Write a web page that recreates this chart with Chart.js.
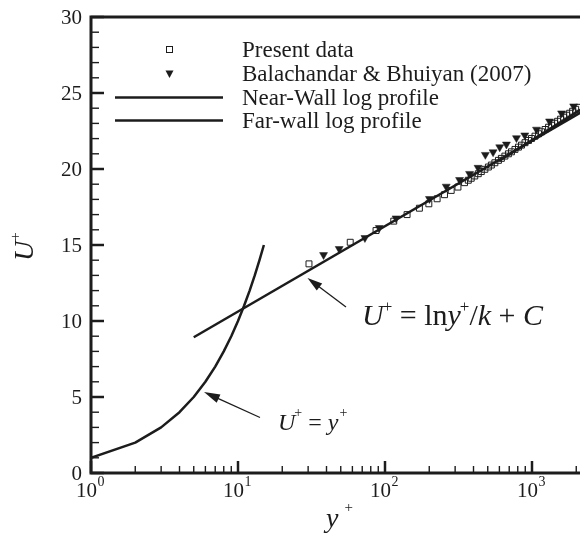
<!DOCTYPE html>
<html>
<head>
<meta charset="utf-8">
<script src="https://cdn.jsdelivr.net/npm/chart.js@4/dist/chart.umd.min.js"></script>
<style>
html,body{margin:0;padding:0;background:#fff;overflow:hidden}
#wrap{width:580px;height:535px;overflow:hidden;position:relative}
canvas{display:block}
</style>
</head>
<body>
<div id="wrap"><canvas id="c" width="600" height="535"></canvas></div>
<script>
// ---------- data ----------
const presentYPlus = [30.4, 58.0, 86.9, 114.7, 141.3, 171.4, 198.7, 226.3, 254, 282, 313.6, 347.7,
  368.7, 386, 408, 431, 452, 478, 505, 529, 559, 591,
  619, 654, 691, 725, 766, 809, 848, 896, 947, 992,
  1048, 1108, 1161, 1227, 1296, 1359, 1424, 1493, 1565, 1641,
  1720, 1803, 1890, 1982, 2077];
const presentU = [13.76, 15.18, 15.95, 16.57, 17.00, 17.42, 17.71, 18.04, 18.31, 18.59, 18.81, 19.10,
  19.26, 19.39, 19.54, 19.69, 19.83, 19.98, 20.13, 20.26, 20.41, 20.57,
  20.70, 20.85, 21.00, 21.13, 21.29, 21.44, 21.57, 21.73, 21.88, 22.01,
  22.16, 22.32, 22.45, 22.60, 22.75, 22.88, 23.01, 23.14, 23.28, 23.41,
  23.54, 23.67, 23.80, 23.93, 24.06];
const balYPlus = [38.2, 48.8, 73.0, 91.4, 118.9, 200.6, 260.9, 321.5, 376, 429.5,
  481.6, 543.6, 603, 670, 784, 893, 1073, 1316, 1589, 1920];
const balU = [14.35, 14.75, 15.47, 16.13, 16.76, 18.04, 18.85, 19.29, 19.69, 20.09,
  20.94, 21.11, 21.44, 21.62, 22.04, 22.22, 22.60, 23.14, 23.67, 24.13];
const nearWallYPlus = [5, 2900];
const nearWallU = [8.93, 24.45];
const farWallYPlus = [600, 2900];
const farWallU = [20.55, 24.70];
const viscousYPlus = [1, 2, 3, 4, 5, 6, 7, 8, 9, 10, 11, 12, 13, 14, 15];
const viscousU = [1, 2, 3, 4, 5, 6, 7, 8, 9, 10, 11, 12, 13, 14, 15];

const yTickValues = [0, 5, 10, 15, 20, 25, 30];
const yTickLabels = ['0', '5', '10', '15', '20', '25', '30'];
const xTickValues = [1, 10, 100, 1000];
const xTickBase = ['10', '10', '10', '10'];
const xTickExponents = ['0', '1', '2', '3'];
const legendLabels = ['Present data', 'Balachandar & Bhuiyan (2007)', 'Near-Wall log profile', 'Far-wall log profile'];
const xAxisTitle = ['y', '+'];
const yAxisTitle = ['U', '+'];

const INK = '#1c1c1c';
const SERIF = '"Liberation Serif", "Times New Roman", serif';
const xMax = Math.pow(10, (600 - 91) / 147);

const pts = (xs, ys) => xs.map((x, i) => ({x: x, y: ys[i]}));

function drawParts(ctx, x, y, parts) {
  let cx = x;
  for (const p of parts) {
    ctx.font = p.font;
    cx += (p.pre || 0);
    ctx.fillText(p.t, cx, y + (p.dy || 0));
    cx += ctx.measureText(p.t).width + (p.post || 0);
  }
  return cx;
}

function arrow(ctx, x1, y1, x2, y2, len, half) {
  const a = Math.atan2(y2 - y1, x2 - x1);
  ctx.lineWidth = 1.3;
  ctx.beginPath(); ctx.moveTo(x1, y1);
  ctx.lineTo(x2 - Math.cos(a) * len * 0.8, y2 - Math.sin(a) * len * 0.8); ctx.stroke();
  ctx.beginPath();
  ctx.moveTo(x2, y2);
  ctx.lineTo(x2 - Math.cos(a) * len + Math.sin(a) * half, y2 - Math.sin(a) * len - Math.cos(a) * half);
  ctx.lineTo(x2 - Math.cos(a) * len - Math.sin(a) * half, y2 - Math.sin(a) * len + Math.cos(a) * half);
  ctx.closePath(); ctx.fill();
}

const decor = {
  id: 'decor',
  afterDraw(chart) {
    const ctx = chart.ctx, ca = chart.chartArea, xs = chart.scales.x, ys = chart.scales.y;
    ctx.save();
    ctx.strokeStyle = INK; ctx.fillStyle = INK;
    // frame
    ctx.lineWidth = 3;
    ctx.beginPath();
    ctx.moveTo(ca.left - 1.5, ca.top); ctx.lineTo(ca.right + 5, ca.top);
    ctx.moveTo(ca.left - 1.5, ca.bottom); ctx.lineTo(ca.right + 5, ca.bottom);
    ctx.moveTo(ca.left, ca.top - 1.5); ctx.lineTo(ca.left, ca.bottom + 1.5);
    ctx.stroke();
    // y ticks (inside)
    for (let v = 0; v <= 30; v++) {
      const py = ys.getPixelForValue(v);
      const major = yTickValues.includes(v);
      ctx.lineWidth = major ? 2.5 : 1.4;
      ctx.beginPath(); ctx.moveTo(ca.left, py); ctx.lineTo(ca.left + (major ? 13 : 8), py); ctx.stroke();
    }
    // x ticks (inside)
    for (const d of xTickValues) {
      for (let k = 1; k <= 9; k++) {
        const v = k * d;
        if (v > xMax) break;
        const px = xs.getPixelForValue(v);
        const major = k === 1;
        ctx.lineWidth = major ? 2.5 : 1.4;
        ctx.beginPath(); ctx.moveTo(px, ca.bottom); ctx.lineTo(px, ca.bottom - (major ? 12 : 7)); ctx.stroke();
      }
    }
    // y tick labels
    ctx.textAlign = 'right'; ctx.textBaseline = 'middle';
    ctx.font = '21px ' + SERIF;
    yTickValues.forEach((v, i) => ctx.fillText(yTickLabels[i], ca.left - 9, ys.getPixelForValue(v) + 1));
    // x tick labels
    ctx.textAlign = 'left'; ctx.textBaseline = 'alphabetic';
    xTickValues.forEach((v, i) => {
      const px = xs.getPixelForValue(v);
      ctx.font = '21px ' + SERIF; const w1 = ctx.measureText(xTickBase[i]).width;
      ctx.font = '14px ' + SERIF; const w2 = ctx.measureText(xTickExponents[i]).width;
      const x0 = px - (w1 + w2) / 2 - 1;
      ctx.font = '21px ' + SERIF; ctx.fillText(xTickBase[i], x0, 497);
      ctx.font = '14px ' + SERIF; ctx.fillText(xTickExponents[i], x0 + w1 + 0.5, 486);
    });
    // axis titles
    drawParts(ctx, 326, 527, [
      {t: xAxisTitle[0], font: 'italic 28px ' + SERIF},
      {t: xAxisTitle[1], font: '15px ' + SERIF, dy: -15, pre: 6}
    ]);
    ctx.save();
    ctx.translate(33, 261); ctx.rotate(-Math.PI / 2);
    drawParts(ctx, 0, 0, [
      {t: yAxisTitle[0], font: 'italic 28px ' + SERIF},
      {t: yAxisTitle[1], font: '15px ' + SERIF, dy: -13, pre: 0}
    ]);
    ctx.restore();
    // legend
    const rows = [49.5, 74, 97.5, 120.5];
    ctx.lineWidth = 1;
    ctx.strokeRect(166.5, rows[0] - 3, 6, 6);
    ctx.beginPath(); ctx.moveTo(165.5, rows[1] - 3.5); ctx.lineTo(173.5, rows[1] - 3.5); ctx.lineTo(169.5, rows[1] + 4); ctx.closePath(); ctx.fill();
    ctx.lineWidth = 2.5;
    [2, 3].forEach(r => { ctx.beginPath(); ctx.moveTo(115, rows[r]); ctx.lineTo(223, rows[r]); ctx.stroke(); });
    ctx.font = '23px ' + SERIF; ctx.textBaseline = 'middle';
    legendLabels.forEach((t, i) => ctx.fillText(t, 242, rows[i] + 1));
    ctx.textBaseline = 'alphabetic';
    // annotations
    arrow(ctx, 346, 307, 307.5, 278, 15, 4.5);
    arrow(ctx, 260, 417.5, 204, 392, 16, 4.5);
    const sup = '17px ' + SERIF;
    drawParts(ctx, 362, 325, [
      {t: 'U', font: 'italic 30px ' + SERIF},
      {t: '+', font: sup, dy: -13, pre: -1},
      {t: ' = ', font: '30px ' + SERIF},
      {t: 'ln', font: '30px ' + SERIF},
      {t: 'y', font: 'italic 30px ' + SERIF},
      {t: '+', font: sup, dy: -13, pre: -1},
      {t: '/', font: '30px ' + SERIF},
      {t: 'k', font: 'italic 30px ' + SERIF},
      {t: ' + ', font: '30px ' + SERIF},
      {t: 'C', font: 'italic 30px ' + SERIF}
    ]);
    const sup2 = '14px ' + SERIF;
    drawParts(ctx, 278, 430, [
      {t: 'U', font: 'italic 24px ' + SERIF},
      {t: '+', font: sup2, dy: -13, pre: -1},
      {t: ' = ', font: '24px ' + SERIF},
      {t: 'y', font: 'italic 24px ' + SERIF},
      {t: '+', font: sup2, dy: -13, pre: 1}
    ]);
    ctx.restore();
  }
};

new Chart(document.getElementById('c').getContext('2d'), {
  type: 'scatter',
  data: {
    datasets: [
      {label: legendLabels[0], data: pts(presentYPlus, presentU), pointStyle: 'rect', pointRadius: 4.2,
       pointBorderColor: INK, pointBackgroundColor: 'rgba(0,0,0,0)', pointBorderWidth: 1, showLine: false},
      {label: legendLabels[1], data: pts(balYPlus, balU), pointStyle: 'triangle', pointRotation: 180, pointRadius: 4.6,
       pointBorderColor: INK, pointBackgroundColor: INK, pointBorderWidth: 0.5, showLine: false},
      {label: legendLabels[2], data: pts(nearWallYPlus, nearWallU), showLine: true, pointRadius: 0,
       borderColor: INK, borderWidth: 2.5, fill: false},
      {label: legendLabels[3], data: pts(farWallYPlus, farWallU), showLine: true, pointRadius: 0,
       borderColor: INK, borderWidth: 2.5, fill: false},
      {label: 'U+ = y+', data: pts(viscousYPlus, viscousU), showLine: true, pointRadius: 0,
       borderColor: INK, borderWidth: 2.5, borderJoinStyle: 'round', fill: false}
    ]
  },
  options: {
    responsive: false, animation: false, devicePixelRatio: 1,
    layout: {autoPadding: false, padding: {left: 91, top: 17, right: 0, bottom: 62}},
    plugins: {legend: {display: false}, tooltip: {enabled: false}},
    scales: {
      x: {type: 'logarithmic', min: 1, max: xMax, display: false},
      y: {type: 'linear', min: 0, max: 30, display: false}
    }
  },
  plugins: [decor]
});
</script>
</body>
</html>
